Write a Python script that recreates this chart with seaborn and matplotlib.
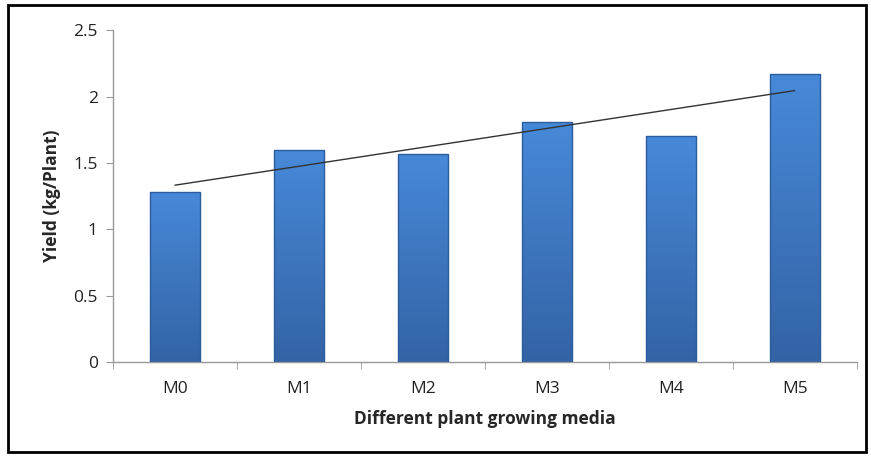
import numpy as np
import pandas as pd
import seaborn as sns
import matplotlib.pyplot as plt
from matplotlib.patches import Rectangle
from matplotlib.colors import LinearSegmentedColormap

# data
media = ["M0", "M1", "M2", "M3", "M4", "M5"]
yield_kg = [1.28, 1.60, 1.57, 1.81, 1.70, 2.17]

df = pd.DataFrame({"media": media, "yield": yield_kg})

sns.set_style("white")
plt.rcParams['font.family'] = ['Open Sans', 'DejaVu Sans']

fig = plt.figure(figsize=(8.71, 4.57), dpi=100)
ax = fig.add_axes([0.1297, 0.208, 0.854, 0.726])

sns.barplot(data=df, x="media", y="yield", color="#3d7dcc", width=0.4,
            edgecolor="#2b5d9e", linewidth=1.0, saturation=1, ax=ax)

# fake the gradient look of the original bars
cmap = LinearSegmentedColormap.from_list("b", ["#3463a5", "#4789d9"])
for bar in ax.patches:
    x0, y0 = bar.get_x(), bar.get_y()
    w, h = bar.get_width(), bar.get_height()
    grad = np.linspace(0, 1, 100).reshape(-1, 1)
    im = ax.imshow(grad, extent=[x0, x0 + w, y0, y0 + h], aspect="auto",
                   cmap=cmap, origin="lower", zorder=2)
    im.set_clip_path(bar)
    bar.set_zorder(3)
    bar.set_facecolor("none")

# linear trend line
xs = np.arange(len(media))
k, b = np.polyfit(xs, yield_kg, 1)
ax.plot(xs, k * xs + b, color="#333333", lw=1.0, zorder=4)

ax.set_xlim(-0.5, 5.5)
ax.set_ylim(0, 2.5)
ax.set_yticks([0, 0.5, 1, 1.5, 2, 2.5])
ax.set_yticklabels(["0", "0.5", "1", "1.5", "2", "2.5"])
ax.set_xticks(xs)
ax.set_xticks(np.arange(-0.5, 6, 1), minor=True)
ax.tick_params(axis="x", which="major", length=0, labelsize=12.5, pad=14,
               colors="#222222")
ax.tick_params(axis="x", which="minor", length=5, color="#999999",
               direction="out", bottom=True)
ax.tick_params(axis="y", length=5, color="#999999", direction="out",
               left=True, labelsize=12.5, pad=6, colors="#222222")

for s in ["top", "right"]:
    ax.spines[s].set_visible(False)
for s in ["left", "bottom"]:
    ax.spines[s].set_color("#999999")
    ax.spines[s].set_linewidth(1.0)

ax.set_xlabel("Different plant growing media", fontsize=12.5, fontweight="bold",
              labelpad=9)
ax.set_ylabel("Yield (kg/Plant)", fontsize=12.5, fontweight="bold", labelpad=9)

# black frame around the whole chart
fig.patches.append(Rectangle((0.009, 0.011), 0.985, 0.978,
                             transform=fig.transFigure, fill=False,
                             edgecolor="black", linewidth=2))

fig.savefig("out.png", dpi=100)
